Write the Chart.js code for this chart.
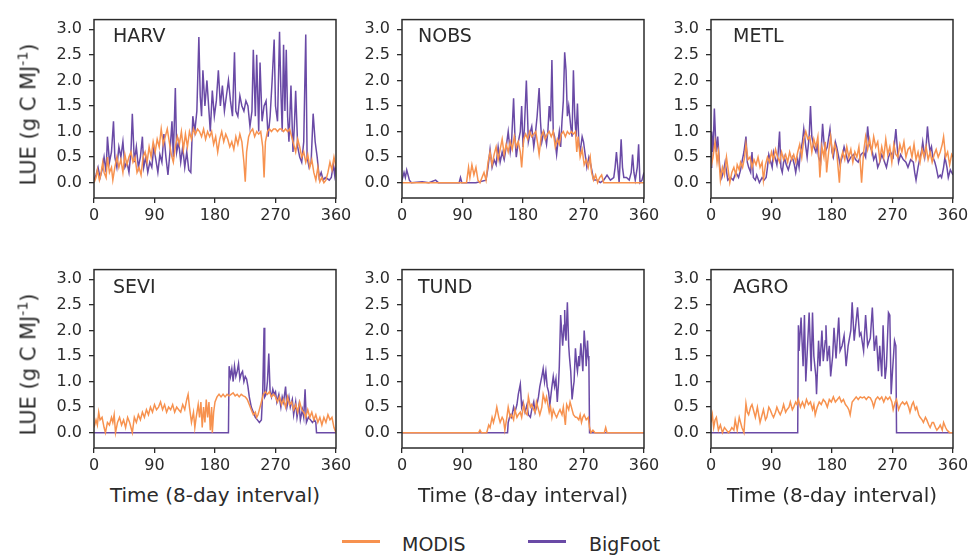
<!DOCTYPE html>
<html><head><meta charset="utf-8">
<script src="https://cdn.jsdelivr.net/npm/chart.js@4.4.1/dist/chart.umd.min.js"></script>
<style>
body{margin:0;background:#fff;width:973px;height:558px;position:relative;overflow:hidden;font-family:'DejaVu Sans',sans-serif;color:#2b2b2b}
canvas{position:absolute}
.t{position:absolute;white-space:nowrap;line-height:1}
.plab{font-size:19px}
.xt{font-size:20px;width:300px;text-align:center}
.yt{font-size:21px;width:240px;text-align:center;transform:rotate(-90deg)}
.lg{font-size:19px}
.ll{position:absolute;height:2.5px}
</style></head><body>
<script>
const panelNames = ['HARV','NOBS','METL','SEVI','TUND','AGRO'];
const seriesNames = ['MODIS','BigFoot'];
const xTicks = [0,90,180,270,360];
const yTicks = [0,0.5,1.0,1.5,2.0,2.5,3.0];

// HARV
const harvBigfootX = [0,3,6,9,12,15,18,20,23,26,
 29,31,34,37,40,43,46,49,52,55,
 57,60,63,66,69,72,74,77,80,83,
 86,89,92,95,98,101,104,107,110,113,
 116,118,121,123,126,129,132,135,138,141,
 144,147,150,153,156,158,160,162,165,168,
 171,173,176,179,182,185,188,191,194,197,
 200,203,206,209,211,214,217,220,223,226,
 229,232,235,237,240,242,245,247,250,253,
 256,259,262,265,268,270,273,276,278,280,
 282,284,286,288,290,293,296,298,300,303,
 306,309,312,315,317,320,323,326,329,332,
 335,338,341,344,347,350,353,356,358,360];
const harvBigfootY = [0.05,0.15,0.3,0.1,0.25,0.5,0.2,0.9,0.4,0.6,
 1.2,0.5,0.3,0.7,0.5,0.8,0.3,0.4,0.2,0.6,
 1.35,0.4,0.7,0.3,0.5,0.9,0.3,0.5,0.2,0.4,
 0.3,0.7,0.45,0.2,0.55,0.4,0.95,0.5,0.15,0.6,
 1.2,0.5,1.85,0.6,0.8,0.4,0.7,0.3,0.6,0.25,
 0.2,1.3,1.0,1.4,2.85,1.7,1.3,2.2,1.5,2.0,
 1.4,1.0,1.8,1.3,1.6,2.2,1.5,1.9,1.4,1.7,
 2.0,1.6,1.3,2.55,1.4,1.3,1.7,1.5,1.4,1.6,
 1.5,1.1,1.4,2.6,1.3,2.5,1.0,2.35,1.2,1.5,
 1.6,0.9,1.3,2.0,2.8,1.5,1.2,2.95,1.8,1.0,
 2.7,1.4,2.6,1.3,0.8,1.9,0.6,1.1,1.8,0.7,
 0.5,0.4,0.8,2.9,0.5,0.3,0.4,1.35,0.8,0.5,
 0.1,0.2,0.05,0.1,0.08,0.05,0.1,0.35,0.15,0.4];
const harvModisX = [0,3,5,8,10,13,15,18,20,23,
 26,28,31,34,37,40,43,46,49,52,
 55,58,61,64,67,70,73,76,79,82,
 85,88,91,94,97,100,103,106,109,112,
 115,118,121,124,127,130,133,136,139,142,
 145,148,151,154,157,160,163,166,169,172,
 175,178,181,184,187,190,193,196,199,202,
 205,208,211,214,217,220,223,225,227,230,
 233,236,239,242,245,248,251,253,255,258,
 261,264,267,270,273,276,279,282,285,288,
 291,294,297,300,303,306,309,312,315,318,
 321,324,327,330,333,336,339,342,345,348,
 351,354,357,360];
const harvModisY = [0.0,0.1,0.25,0.05,0.15,0.4,0.2,0.1,0.5,0.2,
 0.3,0.05,0.3,0.5,0.3,0.45,0.2,0.55,0.35,0.5,
 0.6,0.4,0.5,0.2,0.3,0.15,0.5,0.6,0.4,0.7,
 0.5,0.8,0.6,0.85,0.7,1.05,0.75,0.9,1.05,0.8,
 0.55,0.4,0.7,0.9,0.75,1.0,0.65,0.95,0.7,1.0,
 0.85,1.05,0.95,1.05,1.0,0.9,1.05,0.85,1.0,0.9,
 1.0,0.75,0.9,0.6,0.85,1.0,0.8,0.95,0.85,0.7,
 0.8,0.65,0.9,0.75,0.95,0.8,0.4,0.02,0.6,0.9,
 1.0,1.05,0.9,1.0,0.95,1.0,0.7,0.1,0.8,1.0,
 1.05,1.0,1.05,1.05,1.0,1.05,1.05,1.0,1.05,1.0,
 1.05,0.9,0.75,0.6,0.85,0.7,0.5,0.6,0.4,0.55,
 0.3,0.45,0.2,0.05,0.3,0.02,0.1,0.0,0.05,0.2,
 0.4,0.25,0.5,0.3];

// NOBS
const nobsBigfootX = [0,3,5,7,9,11,14,30,40,50,
 54,70,85,87,89,110,125,128,131,134,
 137,140,143,146,149,152,155,158,161,163,
 166,168,170,173,176,178,180,182,185,188,
 191,193,196,198,201,204,206,208,211,213,
 215,217,219,221,223,225,227,230,232,234,
 236,238,240,242,244,246,248,251,253,255,
 257,259,261,263,265,268,270,273,275,278,
 280,283,285,290,295,300,305,310,315,317,
 319,321,323,326,328,330,334,338,341,343,
 345,347,350,352,354,357,360];
const nobsBigfootY = [0.05,0.2,0.1,0.25,0.15,0.05,0.0,0.02,0.0,0.05,
 0.0,0.0,0.0,0.1,0.0,0.0,0.05,0.3,0.65,0.3,
 0.45,0.35,0.7,0.4,0.6,0.45,0.7,1.0,0.6,0.8,
 1.65,0.9,0.5,0.8,1.0,1.5,0.7,1.05,2.0,0.8,
 1.0,1.1,0.7,0.9,1.3,1.85,1.2,0.8,1.0,0.9,
 0.75,1.0,1.5,1.2,2.4,1.0,0.9,0.55,0.8,1.0,
 0.7,1.2,1.6,2.55,2.2,1.3,1.5,1.1,0.9,2.2,
 1.3,0.9,1.55,0.8,0.6,0.9,0.8,0.5,0.3,0.5,
 0.4,0.2,0.05,0.05,0.0,0.05,0.15,0.05,0.1,0.3,
 0.6,0.3,0.0,0.85,0.3,0.1,0.1,0.05,0.2,0.55,
 0.2,0.05,0.3,0.75,0.0,0.05,0.2];
const nobsModisX = [0,96,99,101,104,107,110,113,116,119,
 122,125,128,131,134,137,140,143,146,149,
 152,155,158,161,164,167,170,173,176,178,
 181,184,187,190,193,196,199,202,204,207,
 210,213,216,219,222,225,228,231,234,237,
 240,243,246,249,252,255,258,260,262,265,
 268,271,274,277,280,282,285,288,291,294,
 297,300,360];
const nobsModisY = [0.0,0.0,0.3,0.1,0.35,0.15,0.3,0.05,0.0,0.1,
 0.2,0.05,0.4,0.6,0.35,0.55,0.7,0.45,0.65,0.85,
 0.55,0.75,0.6,0.8,0.65,0.9,0.7,0.8,0.6,0.3,
 0.85,0.95,0.85,1.0,0.9,0.95,1.0,0.75,0.55,0.9,
 1.0,0.85,0.95,1.0,0.9,1.0,0.7,0.85,0.75,0.95,
 1.0,0.9,1.0,0.95,1.0,0.95,1.0,0.6,0.9,0.5,
 0.65,0.35,0.45,0.3,0.5,0.2,0.05,0.15,0.0,0.1,
 0.15,0.0,0.0];

// METL
const metlBigfootX = [0,1,3,5,7,8,10,13,16,19,
 21,25,29,33,37,41,44,46,49,52,
 54,56,59,61,63,66,68,72,76,79,
 82,84,86,89,91,93,96,98,100,102,
 104,106,109,112,115,118,121,124,126,129,
 131,133,136,138,141,143,146,148,150,153,
 156,158,160,163,166,168,170,173,177,180,
 182,185,187,190,192,195,198,200,204,208,
 212,215,219,223,227,230,233,235,237,240,
 242,245,248,251,254,257,261,264,267,271,
 275,277,279,282,286,290,293,297,301,303,
 305,308,311,313,315,318,320,322,324,326,
 328,330,333,335,338,341,343,346,348,351,
 353,356,358,360];
const metlBigfootY = [0.3,1.0,0.6,1.45,0.8,0.6,0.9,0.3,0.1,0.25,
 0.4,0.05,0.1,0.05,0.2,0.1,0.25,0.4,0.6,0.9,
 0.4,0.3,0.2,0.6,0.1,0.05,0.15,0.0,0.1,0.05,
 0.1,0.3,0.55,0.4,0.3,0.6,0.45,0.35,0.6,1.0,
 0.3,0.2,0.5,0.35,0.25,0.4,0.5,0.35,0.2,0.45,
 0.3,0.6,0.8,1.05,0.7,0.5,0.9,1.5,0.9,0.7,
 0.6,0.75,0.5,0.4,1.15,0.8,0.6,0.7,1.05,0.6,
 0.5,0.8,0.7,0.5,0.35,0.5,0.7,0.6,0.4,0.5,
 0.55,0.45,0.4,0.55,0.6,0.5,1.1,0.8,0.7,0.6,
 0.45,0.55,0.3,0.4,0.55,0.45,0.3,0.5,0.6,0.5,
 1.05,0.7,0.4,0.55,0.45,0.4,0.3,0.45,0.4,0.2,
 0.05,0.3,0.5,0.6,0.8,0.5,0.7,1.1,0.8,0.6,
 0.7,0.5,0.4,0.3,0.1,0.15,0.1,0.3,0.5,0.3,
 0.1,0.25,0.2,0.15];
const metlModisX = [0,3,6,9,11,14,17,20,23,26,
 28,31,34,37,39,42,44,47,50,52,
 55,58,61,64,67,70,73,76,78,81,
 84,87,90,93,96,99,102,105,108,111,
 114,117,120,123,126,129,132,135,138,141,
 144,147,150,153,156,159,162,165,168,170,
 172,175,178,181,184,187,189,191,193,196,
 199,202,205,208,211,214,217,220,222,224,
 227,230,233,236,239,242,245,248,251,254,
 257,260,263,266,269,272,275,278,281,284,
 287,290,293,296,299,302,305,308,311,314,
 317,320,323,326,329,332,335,338,341,344,
 346,349,352,355,358,360];
const metlModisY = [0.3,0.5,0.8,0.4,0.6,0.05,0.3,0.15,0.5,0.2,
 0.0,0.2,0.3,0.15,0.35,0.25,0.4,0.3,0.5,0.75,
 0.45,0.5,0.3,0.45,0.35,0.5,0.3,0.4,0.05,0.35,
 0.5,0.4,0.6,0.45,0.65,0.5,0.4,0.6,0.45,0.55,
 0.4,0.6,0.45,0.55,0.4,0.6,0.75,0.5,0.85,1.0,
 0.85,0.9,0.6,0.85,0.7,0.9,0.1,0.7,0.5,0.8,
 0.2,0.6,0.9,0.55,0.75,0.6,0.3,0.0,0.45,0.6,
 0.45,0.7,0.5,0.65,0.4,0.6,0.5,0.7,0.4,0.0,
 0.6,0.9,0.65,0.85,0.6,0.9,0.7,0.8,0.45,0.7,
 0.5,0.85,0.55,0.7,0.4,0.75,0.55,0.5,0.75,0.6,
 0.8,0.5,0.65,0.7,0.5,0.75,0.45,0.6,0.4,0.65,
 0.5,0.7,0.45,0.6,0.4,0.55,0.65,0.5,0.6,0.75,
 0.9,0.5,0.6,0.35,0.55,0.5];

// SEVI
const seviBigfootX = [0,200,201,203,205,207,209,211,213,215,
 217,219,221,223,225,227,229,231,234,237,
 240,243,246,249,251,253,254,256,258,260,
 262,264,266,268,270,272,275,278,280,282,
 285,287,290,292,295,297,300,302,305,307,
 310,312,314,316,319,322,325,328,330,331,
 360];
const seviBigfootY = [0.0,0.0,1.3,1.1,1.25,1.0,1.3,1.1,1.2,1.35,
 1.05,1.15,1.2,1.0,1.1,1.05,0.9,0.7,0.5,0.4,
 0.3,0.25,0.2,0.25,0.8,2.05,0.7,0.75,1.0,1.55,
 0.8,0.7,0.85,0.75,0.8,0.6,0.75,0.5,0.7,0.6,
 0.9,0.5,0.7,0.5,0.65,0.35,0.6,0.3,0.55,0.25,
 0.45,0.3,0.85,0.2,0.3,0.25,0.2,0.25,0.2,0.0,
 0.0];
const seviModisX = [0,3,5,7,9,12,15,17,20,23,
 26,28,30,32,35,38,41,44,47,50,
 53,55,57,60,63,66,69,72,75,78,
 81,84,87,90,93,96,99,102,105,108,
 111,114,117,120,123,126,129,132,135,138,
 140,142,145,148,150,152,155,157,159,161,
 163,165,167,169,171,173,175,176,178,180,
 183,186,189,192,195,198,201,204,207,210,
 213,216,219,222,225,228,231,234,237,240,
 242,244,246,249,252,255,258,261,264,267,
 270,273,276,279,282,285,288,291,294,297,
 300,303,306,309,312,315,318,321,324,327,
 330,333,336,339,342,345,348,351,354,357,
 360];
const seviModisY = [0.1,0.25,0.15,0.4,0.25,0.3,0.1,0.0,0.2,0.15,
 0.3,0.2,0.35,0.0,0.2,0.3,0.15,0.25,0.1,0.3,
 0.2,0.1,0.0,0.3,0.2,0.35,0.25,0.4,0.3,0.45,
 0.35,0.5,0.4,0.55,0.45,0.5,0.6,0.45,0.55,0.4,
 0.5,0.45,0.55,0.4,0.5,0.45,0.4,0.55,0.45,0.65,
 0.75,0.5,0.2,0.4,0.1,0.3,0.55,0.3,0.6,0.1,
 0.5,0.2,0.65,0.3,0.6,0.05,0.5,0.0,0.4,0.6,
 0.7,0.75,0.7,0.75,0.7,0.75,0.72,0.75,0.78,0.72,
 0.75,0.7,0.75,0.72,0.7,0.65,0.55,0.45,0.35,0.4,
 0.3,0.35,0.45,0.6,0.75,0.8,0.75,0.8,0.7,0.75,
 0.7,0.6,0.7,0.55,0.65,0.5,0.7,0.55,0.6,0.45,
 0.55,0.4,0.6,0.45,0.4,0.3,0.45,0.3,0.4,0.25,
 0.35,0.2,0.3,0.15,0.3,0.2,0.35,0.25,0.3,0.1,
 0.0];

// TUND
const tundBigfootX = [0,157,158,161,163,166,168,171,173,176,
 178,180,183,186,188,191,193,196,198,200,
 203,205,208,210,212,214,216,218,220,223,
 225,227,229,231,233,234,236,238,239,241,
 242,243,244,246,248,249,251,253,255,256,
 258,260,261,263,264,266,268,269,271,273,
 274,276,277,278,279,360];
const tundBigfootY = [0.0,0.0,0.2,0.35,0.3,0.5,0.4,0.55,0.75,0.95,
 0.5,0.6,0.4,0.55,0.35,0.3,0.45,0.6,0.4,0.5,
 0.7,0.9,1.1,1.25,1.0,1.2,0.9,0.8,0.55,0.9,
 1.1,0.9,1.05,0.6,1.0,1.3,2.3,1.9,1.7,2.1,
 2.4,1.9,1.8,2.55,1.7,1.5,1.2,0.65,0.9,1.0,
 1.65,1.3,1.2,1.5,1.3,1.75,1.4,1.2,2.0,1.6,
 1.3,1.8,1.5,1.4,0.0,0.0];
const tundModisX = [0,114,116,118,126,129,131,134,136,139,
 141,144,146,149,151,153,156,158,161,163,
 166,168,171,173,176,178,181,183,186,188,
 191,193,196,198,200,203,205,208,210,213,
 215,217,219,221,223,225,228,230,233,235,
 238,240,243,245,248,250,253,255,258,260,
 263,265,267,269,271,274,277,279,281,284,
 287,301,303,305,360];
const tundModisY = [0.0,0.0,0.05,0.0,0.0,0.15,0.1,0.3,0.2,0.35,
 0.5,0.3,0.2,0.3,0.25,0.05,0.3,0.5,0.3,0.35,
 0.25,0.45,0.3,0.35,0.4,0.3,0.55,0.4,0.35,0.7,
 0.5,0.55,0.45,0.4,0.6,0.45,0.35,0.5,0.75,0.6,
 0.7,0.55,0.4,0.5,0.3,0.45,0.35,0.3,0.4,0.45,
 0.35,0.5,0.15,0.55,0.45,0.6,0.45,0.35,0.3,0.3,
 0.25,0.35,0.2,0.3,0.35,0.25,0.3,0.1,0.0,0.05,
 0.0,0.0,0.1,0.0,0.0];

// AGRO
const agroBigfootX = [0,129,130,131,134,137,139,141,144,146,
 149,151,153,156,157,160,162,165,167,170,
 171,173,176,178,181,183,186,190,192,195,
 198,201,204,208,210,213,216,218,221,223,
 227,230,233,237,240,243,246,249,251,254,
 256,259,261,264,266,268,270,273,275,276,
 360];
const agroBigfootY = [0.0,0.0,2.1,1.6,2.25,1.3,2.3,1.0,1.8,2.35,
 1.2,2.35,1.5,1.1,0.75,1.8,1.3,2.0,1.4,1.8,
 2.1,1.4,1.7,1.1,1.5,2.05,1.45,2.25,1.6,1.7,
 1.9,1.3,1.7,2.0,2.55,1.8,2.2,2.45,1.9,1.95,
 1.6,2.3,1.7,1.85,2.45,1.6,1.9,1.2,1.7,1.1,
 2.1,1.05,1.3,2.35,2.3,0.75,1.2,1.8,1.7,0.0,
 0.0];
const agroModisX = [0,2,4,6,8,11,14,17,20,23,
 26,29,31,34,36,39,42,44,46,49,
 52,54,56,59,61,64,66,69,71,73,
 76,78,81,83,86,88,91,93,96,98,
 101,103,106,108,111,113,116,118,121,123,
 126,128,130,133,136,139,142,145,148,151,
 153,155,158,161,164,167,170,173,176,179,
 182,185,188,191,194,197,200,203,205,207,
 210,213,216,219,222,225,228,231,234,237,
 240,242,245,248,251,254,257,260,263,266,
 269,271,274,276,279,282,285,288,291,294,
 296,299,301,304,306,309,311,314,316,319,
 321,324,326,329,331,334,336,339,341,344,
 346,349,351,355,360];
const agroModisY = [0.2,0.35,0.1,0.25,0.3,0.05,0.15,0.0,0.1,0.05,
 0.0,0.05,0.1,0.05,0.25,0.05,0.3,0.2,0.1,0.0,
 0.57,0.4,0.35,0.5,0.55,0.4,0.3,0.5,0.35,0.2,
 0.35,0.45,0.25,0.3,0.5,0.45,0.35,0.3,0.4,0.5,
 0.4,0.35,0.45,0.55,0.4,0.45,0.5,0.6,0.45,0.5,
 0.6,0.55,0.65,0.5,0.6,0.5,0.65,0.55,0.6,0.45,
 0.55,0.35,0.5,0.6,0.55,0.65,0.6,0.5,0.65,0.6,
 0.7,0.6,0.65,0.7,0.6,0.65,0.55,0.5,0.45,0.35,
 0.6,0.65,0.7,0.65,0.7,0.68,0.7,0.65,0.7,0.68,
 0.6,0.5,0.65,0.7,0.65,0.7,0.6,0.7,0.65,0.7,
 0.6,0.45,0.6,0.65,0.45,0.55,0.6,0.55,0.6,0.5,
 0.4,0.55,0.6,0.45,0.5,0.35,0.3,0.25,0.2,0.3,
 0.25,0.15,0.1,0.2,0.2,0.1,0.05,0.1,0.15,0.05,
 0.2,0.1,0.05,0.0,0.0];

const modisColor = '#f7924f';
const bigfootColor = '#6a4aa6';
const inkColor = '#2b2b2b';

const seriesBySite = {
  HARV: [[harvModisX, harvModisY], [harvBigfootX, harvBigfootY]],
  NOBS: [[nobsModisX, nobsModisY], [nobsBigfootX, nobsBigfootY]],
  METL: [[metlModisX, metlModisY], [metlBigfootX, metlBigfootY]],
  SEVI: [[seviModisX, seviModisY], [seviBigfootX, seviBigfootY]],
  TUND: [[tundModisX, tundModisY], [tundBigfootX, tundBigfootY]],
  AGRO: [[agroModisX, agroModisY], [agroBigfootX, agroBigfootY]]
};

// layout (pixel geometry of each plot area)
const colLeft = [94, 402, 711];
const rowTop = [13, 263];
const plotW = 242, plotH = 185;
const labelDx = [19, 16, 22];
const labelDy = [13, 14];
const padL = 70, padT = 10, padR = 25, padB = 35;

Chart.defaults.font.family = "'DejaVu Sans', sans-serif";
Chart.defaults.color = inkColor;

const framePlugin = {
  id: 'frame',
  afterDraw(chart) {
    const a = chart.chartArea, ctx = chart.ctx;
    ctx.save();
    ctx.strokeStyle = inkColor;
    ctx.lineWidth = 1.5;
    ctx.strokeRect(a.left, a.top, a.right - a.left, a.bottom - a.top);
    ctx.restore();
  }
};

function addText(cls, html, left, top) {
  const d = document.createElement('div');
  d.className = 't ' + cls;
  d.innerHTML = html;
  d.style.left = left + 'px';
  d.style.top = top + 'px';
  document.body.appendChild(d);
  return d;
}

panelNames.forEach((name, idx) => {
  const r = Math.floor(idx / 3), c = idx % 3;
  const L = colLeft[c], T = rowTop[r];
  const cv = document.createElement('canvas');
  const cw = plotW + padL + padR, ch = plotH + padT + padB;
  cv.width = cw; cv.height = ch;
  cv.style.width = cw + 'px'; cv.style.height = ch + 'px';
  cv.style.left = (L - padL) + 'px';
  cv.style.top = (T - padT) + 'px';
  document.body.appendChild(cv);

  const sets = seriesBySite[name];
  const datasets = sets.map((s, k) => ({
    label: seriesNames[k],
    data: s[0].map((x, i) => ({x: x, y: s[1][i]})),
    borderColor: k === 0 ? modisColor : bigfootColor,
    borderWidth: 1.5,
    pointRadius: 0,
    tension: 0,
    fill: false
  }));

  new Chart(cv, {
    type: 'line',
    data: {datasets},
    plugins: [framePlugin],
    options: {
      responsive: false,
      animation: false,
      devicePixelRatio: 1,
      layout: {padding: {left: 0, top: padT, right: padR, bottom: 0}},
      plugins: {legend: {display: false}, tooltip: {enabled: false}},
      scales: {
        x: {
          type: 'linear', min: 0, max: 360,
          afterBuildTicks: s => { s.ticks = xTicks.map(v => ({value: v})); },
          afterFit: s => { s.height = padB; },
          grid: {display: true, drawOnChartArea: false, drawTicks: true, tickLength: 5, color: inkColor, lineWidth: 1.3},
          border: {display: false},
          ticks: {font: {size: 16}, color: inkColor, padding: 3, maxRotation: 0, autoSkip: false,
                  callback: v => String(v)}
        },
        y: {
          type: 'linear', min: -0.3, max: 3.19,
          afterBuildTicks: s => { s.ticks = yTicks.map(v => ({value: v})); },
          afterFit: s => { s.width = padL; },
          grid: {display: true, drawOnChartArea: false, drawTicks: true, tickLength: 5, color: inkColor, lineWidth: 1.3},
          border: {display: false},
          ticks: {font: {size: 16}, color: inkColor, padding: 7, autoSkip: false,
                  callback: v => Number(v).toFixed(1)}
        }
      }
    }
  });

  addText('plab', name, L + labelDx[c], T + labelDy[r]);
  if (r === 1) {
    addText('xt', 'Time (8-day interval)', L + plotW / 2 - 150, T + plotH + 37);
  }
  if (c === 0) {
    addText('yt', 'LUE (g C MJ<sup style="font-size:14px;vertical-align:8px;line-height:0">-1</sup>)', 29 - 120, T + plotH / 2 + 8 - 10);
  }
});

// legend
function addLine(color, left, top, w) {
  const d = document.createElement('div');
  d.className = 'll';
  d.style.background = color;
  d.style.left = left + 'px';
  d.style.top = top + 'px';
  d.style.width = w + 'px';
  document.body.appendChild(d);
}
addLine(modisColor, 342, 540, 38);
addText('lg', seriesNames[0], 402, 535);
addLine(bigfootColor, 528, 540, 38);
addText('lg', seriesNames[1], 589, 535);
</script>
</body></html>
